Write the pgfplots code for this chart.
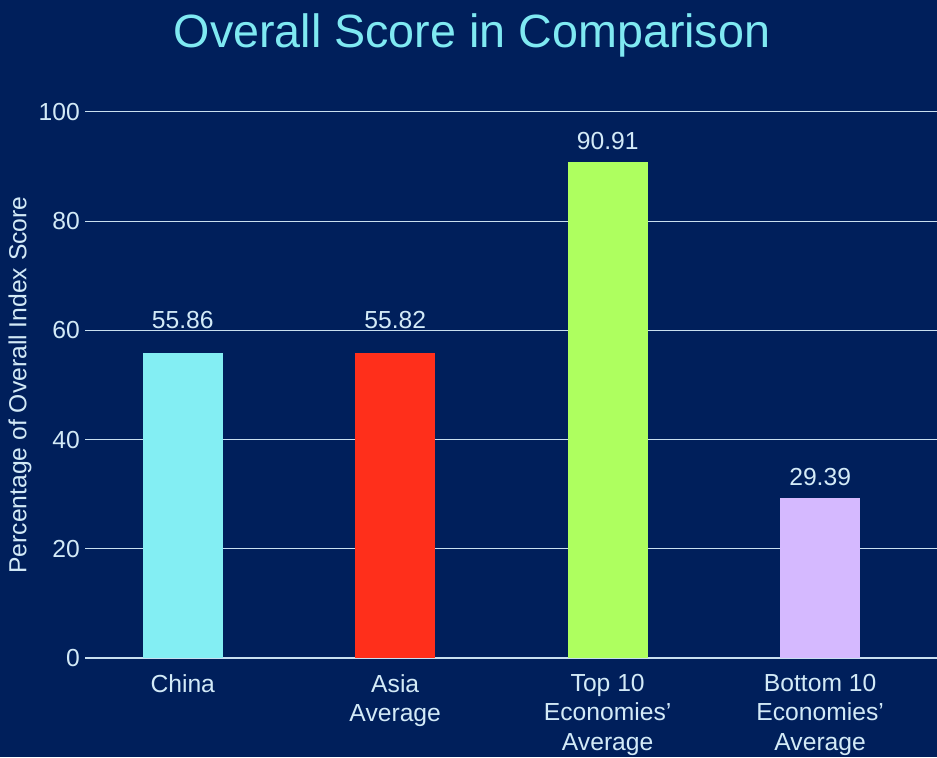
\documentclass[border=0pt]{standalone}
\usepackage{pgfplots}
\pgfplotsset{compat=1.18}
\usepackage{fontspec}
\setmainfont{Liberation Sans}

\definecolor{bg}{HTML}{001F5B}
\definecolor{titlecol}{HTML}{7FE9F2}
\definecolor{txt}{HTML}{D3EAF7}
\definecolor{gridcol}{HTML}{C9DFEF}
\definecolor{china}{HTML}{83EEF3}
\definecolor{asia}{HTML}{FF2F1B}
\definecolor{topten}{HTML}{AEFF5F}
\definecolor{botten}{HTML}{D5B9FF}

\begin{document}
\begin{tikzpicture}
% background, 1px = 0.75pt
\fill[bg] (0,0) rectangle (702.75pt,567.75pt);
\path[use as bounding box] (0,0) rectangle (702.75pt,567.75pt);
\node[text=titlecol, font=\fontsize{35}{41}\selectfont] at (354pt,541pt) {Overall Score in Comparison};

\begin{axis}[
    at={(63.75pt,74.25pt)}, anchor=south west,
    scale only axis,
    width=639pt, height=409.5pt,
    ymin=0, ymax=100,
    xmin=-0.46, xmax=3.55,
    ybar, bar width=0.377,
    axis x line*=bottom,
    axis y line*=left,
    x axis line style={-, gridcol, line width=1.5pt},
    y axis line style={draw=none},
    ymajorgrids,
    grid style={gridcol, line width=0.75pt},
    major tick length=0pt,
    ytick={0,20,40,60,80,100},
    xtick={0,1,2,3},
    xticklabels={China, {Asia\\Average}, {Top 10\\Economies’\\Average}, {Bottom 10\\Economies’\\Average}},
    /pgf/number format/assume math mode=true,
    ticklabel style={text=txt, font=\fontsize{18.5}{22}\selectfont},
    yticklabel style={inner xsep=0pt, xshift=-3.75pt},
    xticklabel style={align=center, inner sep=0pt, yshift=-12pt},
    ylabel={Percentage of Overall Index Score},
    ylabel style={text=txt, font=\fontsize{18.5}{22}\selectfont, at={(axis description cs:-0.0763,0.5)}, anchor=center},
    nodes near coords,
    nodes near coords style={text=txt, font=\fontsize{18.5}{22}\selectfont, yshift=5.5pt,
        /pgf/number format/fixed, /pgf/number format/fixed zerofill,
        /pgf/number format/precision=2, /pgf/number format/assume math mode=true},
]
% labels of the first two bars sit above the 60 grid line
\addplot[fill=china, draw=none, bar shift=0, every node near coord/.append style={yshift=9pt}] coordinates {(0,55.86)};
\addplot[fill=asia, draw=none, bar shift=0, every node near coord/.append style={yshift=9pt}] coordinates {(1,55.82)};
\addplot[fill=topten, draw=none, bar shift=0] coordinates {(2,90.91)};
\addplot[fill=botten, draw=none, bar shift=0] coordinates {(3,29.39)};
\end{axis}
\end{tikzpicture}
\end{document}
